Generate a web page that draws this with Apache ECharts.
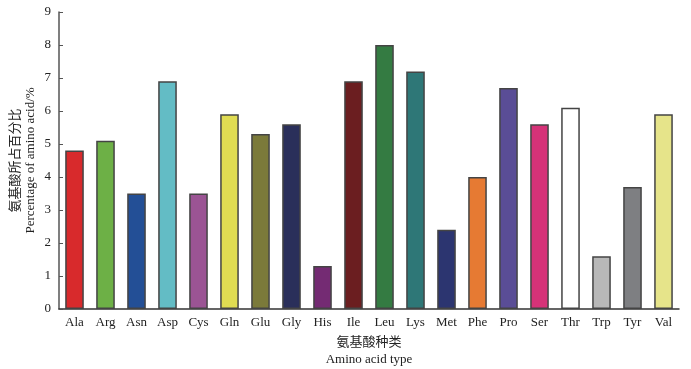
<!DOCTYPE html>
<html>
<head>
<meta charset="utf-8">
<script src="https://cdn.jsdelivr.net/npm/echarts@6/dist/echarts.min.js"></script>
<style>
  html, body { margin: 0; padding: 0; background: #fff; }
  #chart { width: 691px; height: 369px; }
</style>
</head>
<body>
<div id="chart"></div>
<script>
// amino acid names and their share (%)
const aminoAcids = ['Ala', 'Arg', 'Asn', 'Asp', 'Cys', 'Gln', 'Glu', 'Gly', 'His', 'Ile',
  'Leu', 'Lys', 'Met', 'Phe', 'Pro', 'Ser', 'Thr', 'Trp', 'Tyr', 'Val']
const percentages = [4.8, 5.1, 3.5, 6.9, 3.5, 5.9, 5.3, 5.6, 1.3, 6.9,
  8.0, 7.2, 2.4, 4.0, 6.7, 5.6, 6.1, 1.6, 3.7, 5.9]
const barColors = ['#d82a2c', '#6db046', '#234f96', '#63bcc5', '#9b5494', '#e0dc52', '#7b7a3a', '#2a2f5a', '#742b73', '#6b1e20',
  '#347b42', '#2e7777', '#2c3570', '#e67a33', '#5a4d96', '#d63278', '#ffffff', '#b8b8b8', '#7e7f82', '#e6e48a']

const serif = '"Liberation Serif", "Times New Roman", "Noto Sans CJK SC", serif'

const chart = echarts.init(document.getElementById('chart'))
chart.setOption({
  animation: false,
  grid: {
    left: 59,
    right: 12,
    top: 12,
    bottom: 60,
    containLabel: false,
    outerBoundsMode: 'none'
  },
  xAxis: {
    type: 'category',
    data: aminoAcids,
    name: '氨基酸种类\nAmino acid type',
    nameLocation: 'middle',
    nameGap: 24,
    nameTextStyle: {
      fontFamily: serif,
      fontSize: 13,
      color: '#222',
      lineHeight: 17
    },
    axisLine: { lineStyle: { color: '#333', width: 1.5 } },
    axisTick: {
      alignWithLabel: true,
      inside: true,
      length: 4,
      lineStyle: { color: '#333' }
    },
    axisLabel: {
      fontFamily: serif,
      fontSize: 13,
      color: '#222',
      margin: 7
    }
  },
  yAxis: {
    type: 'value',
    min: 0,
    max: 9,
    interval: 1,
    name: '氨基酸所占百分比\nPercentage of amino acid/%',
    nameLocation: 'middle',
    nameRotate: 90,
    nameGap: 21,
    nameMoveOverlap: false,
    nameTextStyle: {
      fontFamily: serif,
      fontSize: 13,
      color: '#222',
      lineHeight: 15
    },
    splitLine: { show: false },
    axisLine: { show: true, lineStyle: { color: '#555', width: 1.5 } },
    axisTick: {
      show: true,
      inside: true,
      length: 4,
      lineStyle: { color: '#555' }
    },
    axisLabel: {
      fontFamily: serif,
      fontSize: 13,
      color: '#222',
      margin: 8
    }
  },
  series: [{
    type: 'bar',
    barWidth: '60%',
    data: percentages.map((v, i) => ({
      value: v,
      itemStyle: { color: barColors[i] }
    })),
    itemStyle: {
      borderColor: '#444',
      borderWidth: 1.5
    }
  }]
})
</script>
</body>
</html>
